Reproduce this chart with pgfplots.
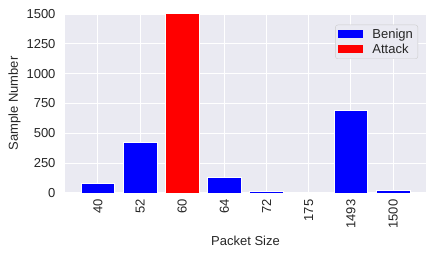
\documentclass[border=0pt]{standalone}
\usepackage{pgfplots}
\pgfplotsset{compat=1.18}
\usepackage{fontspec}
\setmainfont{Liberation Sans}
\definecolor{bg}{HTML}{EAEAF2}
\definecolor{txt}{HTML}{262626}
\begin{document}
\begin{tikzpicture}
\begin{axis}[
  scale only axis, width=361pt, height=179pt,
  xmin=-0.78, xmax=7.78, ymin=0, ymax=1500,
  axis background/.style={fill=bg},
  axis line style={draw=none},
  grid=major, major grid style={white, line width=1.1pt},
  tick style={draw=none},
  xtick={0,...,7}, xticklabels={40,52,60,64,72,175,1493,1500},
  ytick={0,250,...,1500},
  /pgf/number format/assume math mode=true,
  scaled y ticks=false,
  yticklabel style={/pgf/number format/1000 sep={}},
  x tick label style={rotate=90, anchor=east, font=\fontsize{13}{15}\selectfont, text=txt, xshift=-3pt},
  y tick label style={font=\fontsize{13}{15}\selectfont, text=txt, xshift=-6pt},
  xlabel={Packet Size}, ylabel={Sample Number},
  xlabel style={at={(axis description cs:0.5,-0.268)}, anchor=center, font=\fontsize{13}{15}\selectfont, text=txt},
  ylabel style={at={(axis description cs:-0.14,0.5)}, anchor=center, font=\fontsize{13}{15}\selectfont, text=txt},
  legend style={at={(0.978,0.94)}, anchor=north east, fill=bg, draw=black!20, rounded corners=2.5pt,
    font=\fontsize{13}{14}\selectfont, text=txt, row sep=0pt, inner xsep=3pt, inner ysep=2pt,
    nodes={fill=none, draw=none, sharp corners}},
  legend cell align=left,
]
\addplot[ybar, bar width=0.8, bar shift=0pt, fill=blue, draw=white, line width=0.8pt, forget plot]
  coordinates {(0,78) (1,421) (3,128) (4,11) (5,5) (6,695) (7,20)};
\addplot[ybar, bar width=0.8, bar shift=0pt, fill=red, draw=white, line width=0.8pt, forget plot]
  coordinates {(2,1600)};
\addlegendimage{legend image code/.code={\path[fill=blue, draw=none, sharp corners] (0pt,-4pt) rectangle (25pt,4pt); \path[draw=none, fill=none] (0pt,0pt) -- (32pt,0pt);}}
\addlegendentry{Benign}
\addlegendimage{legend image code/.code={\path[fill=red, draw=none, sharp corners] (0pt,-4pt) rectangle (25pt,4pt); \path[draw=none, fill=none] (0pt,0pt) -- (32pt,0pt);}}
\addlegendentry{Attack}
\end{axis}
\pgfresetboundingbox
\useasboundingbox (current axis.south west) ++(-65pt,-65pt) rectangle ++(436pt,258pt);
\end{tikzpicture}
\end{document}
